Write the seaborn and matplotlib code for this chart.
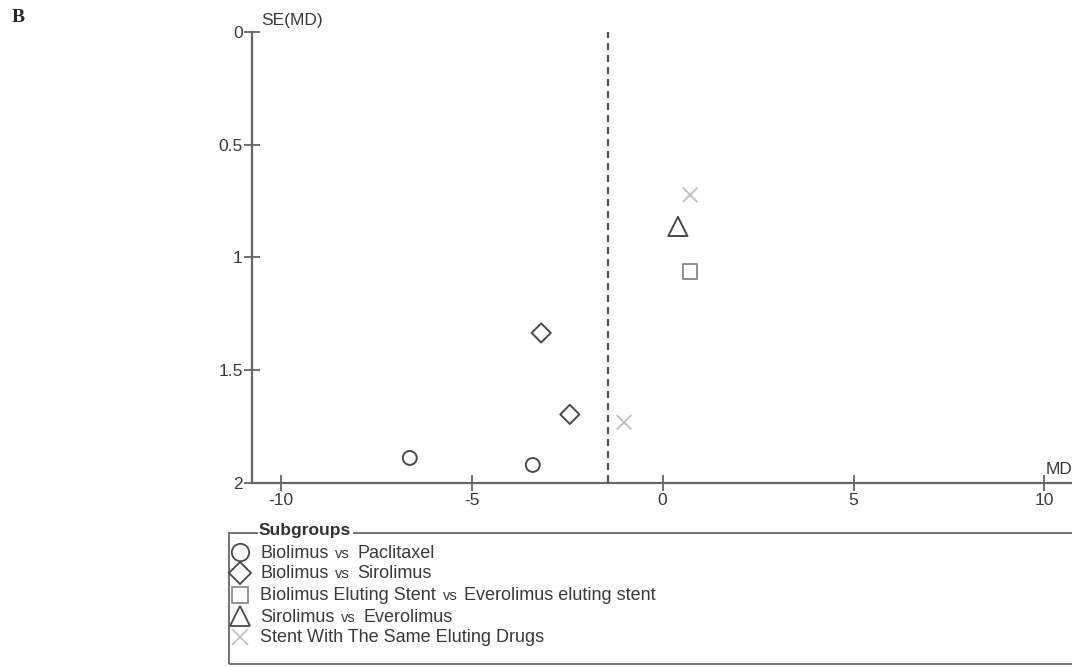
import matplotlib
matplotlib.use("Agg")
import matplotlib.pyplot as plt
import pandas as pd
import seaborn as sns
from matplotlib.lines import Line2D
from matplotlib.patches import Rectangle

# Funnel plot data (MD on x, SE(MD) on y).
groups = [
    "Biolimus vs Paclitaxel",
    "Biolimus vs Sirolimus",
    "Biolimus Eluting Stent vs Everolimus eluting stent",
    "Sirolimus vs Everolimus",
    "Stent With The Same Eluting Drugs",
]
md = [-6.62, -3.40, -3.18, -2.43, 0.72, 0.40, -1.01, 0.72]
se = [1.889, 1.920, 1.335, 1.696, 1.063, 0.863, 1.731, 0.723]
group_of = [0, 0, 1, 1, 2, 3, 4, 4]
pooled_md = -1.42

markers = ["o", "D", "s", "^", "x"]
colors = ["#4a4a4a", "#4a4a4a", "#8e8e8e", "#4a4a4a", "#c4c4c4"]
point_size = [100, 95, 105, 190, 110]

df = pd.DataFrame({"md": md, "se": se, "group": [groups[g] for g in group_of]})

W, H = 1072, 667
sns.set_theme(style="white")
plt.rcParams["font.family"] = ["Liberation Sans", "DejaVu Sans"]
fig = plt.figure(figsize=(W / 100, H / 100), dpi=100)


def fx(px):
    return px / W


def fy(py):
    return 1 - py / H


ax = fig.add_axes([fx(251.7), fy(483), fx(1080 - 251.7), fy(31.7) - fy(483)])

for i, g in enumerate(groups):
    sub = df[df["group"] == g]
    n_before = len(ax.collections)
    sns.scatterplot(data=sub, x="md", y="se", marker=markers[i], s=point_size[i],
                    color=colors[i], ax=ax, legend=False, zorder=3)
    for coll in ax.collections[n_before:]:
        coll.set_facecolor("none")
        coll.set_edgecolor(colors[i])
        coll.set_linewidth(1.4)

ax.axvline(pooled_md, ymin=0.003, ymax=1, color="#555555", lw=1.6,
           ls=(0, (3.2, 2.2)), zorder=2)

ax.set_xlim(-10.76, 10.93)
ax.set_ylim(2, 0)
ax.set_xticks([-10, -5, 0, 5, 10])
ax.set_xticklabels(["-10", "-5", "0", "5", "10"])
ax.set_yticks([0, 0.5, 1, 1.5, 2])
ax.set_yticklabels(["0", "0.5", "1", "1.5", "2"])
ax.set_xlabel("")
ax.set_ylabel("")
for side in ["top", "right"]:
    ax.spines[side].set_visible(False)
for side in ["left", "bottom"]:
    ax.spines[side].set_color("#666666")
    ax.spines[side].set_linewidth(1.6)
ax.tick_params(axis="both", direction="inout", length=11, width=1.3,
               color="#666666", labelsize=12.5, labelcolor="#3a3a3a",
               bottom=True, left=True)
ax.tick_params(axis="x", pad=2)
ax.tick_params(axis="y", pad=1)
ax.set_facecolor("none")

fig.text(fx(261), fy(21), "SE(MD)", fontsize=12.5, color="#3a3a3a", va="center")
fig.text(fx(1046), fy(469), "MD", fontsize=12.5, color="#3a3a3a", va="center")
fig.text(fx(12), fy(18), "B", fontsize=14, fontweight="bold",
         family="Liberation Serif", va="center")

# Legend box drawn by hand so the title sits on the frame line.
fig.add_artist(Rectangle((fx(229), fy(664)), fx(1090 - 229), fy(532.5) - fy(664),
                         transform=fig.transFigure, fill=False,
                         edgecolor="#777777", lw=1.5))
fig.text(fx(259), fy(531), "Subgroups", fontsize=12.5, fontweight="bold",
         color="#333333", va="center",
         bbox=dict(facecolor="white", edgecolor="none", pad=1.0))

renderer = fig.canvas.get_renderer()
row_y = [552, 573, 595, 616, 637]
mk_size = {"o": 12.5, "D": 11, "s": 11, "^": 15, "x": 12}
for i, g in enumerate(groups):
    fig.add_artist(Line2D([fx(240)], [fy(row_y[i])], transform=fig.transFigure,
                          marker=markers[i], markersize=mk_size[markers[i]],
                          markerfacecolor="none", markeredgecolor=colors[i],
                          markeredgewidth=1.3, linestyle="none"))
    x = 260
    if " vs " in g:
        left, right = g.split(" vs ")
        parts = [(left, 13), ("vs", 10.5), (right, 13)]
    else:
        parts = [(g, 13)]
    for txt, size in parts:
        t = fig.text(fx(x), fy(row_y[i] + 5.5), txt, fontsize=size,
                     color="#3a3a3a", va="baseline")
        bb = t.get_window_extent(renderer)
        x = bb.x1 + 7

fig.savefig("out.png", dpi=100)
